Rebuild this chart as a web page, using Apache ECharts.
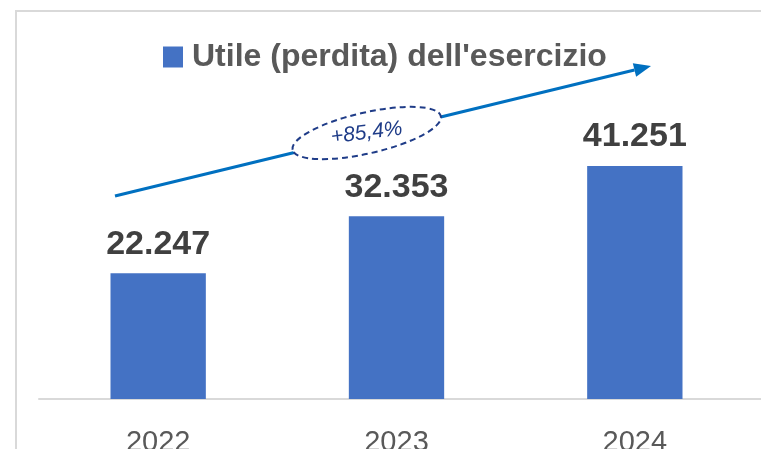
<!DOCTYPE html>
<html>
<head>
<meta charset="utf-8">
<script src="https://cdn.jsdelivr.net/npm/echarts@6/dist/echarts.min.js"></script>
<style>
	html, body { margin: 0; padding: 0; background: #fff; }
	#chart { width: 761px; height: 449px; }
</style>
</head>
<body>
<div id="chart"></div>
<script>
var anni = ['2022', '2023', '2024'];
var utile = [22247, 32353, 41251];
var seriesName = "Utile (perdita) dell'esercizio";
var crescita = '+85,4%';

function fmtIt(v) {
	return String(v).replace(/\B(?=(\d{3})+(?!\d))/g, '.');
}

var myChart = echarts.init(document.getElementById('chart'));

// arrow geometry (annotation)
var ax1 = 115, ay1 = 196, ax2 = 651, ay2 = 66;
var len = Math.sqrt((ax2 - ax1) * (ax2 - ax1) + (ay2 - ay1) * (ay2 - ay1));
var ux = (ax2 - ax1) / len, uy = (ay2 - ay1) / len;
var bx = ax2 - 17 * ux, by = ay2 - 17 * uy;

var option = {
	animation: false,
	backgroundColor: '#fff',
	grid: {
		left: 39,
		right: 7,
		top: 116.5,
		bottom: 50,
		outerBoundsMode: 'none'
	},
	legend: {
		data: [seriesName],
		left: 158,
		top: 36,
		icon: 'rect',
		itemWidth: 20,
		itemHeight: 21,
		textStyle: {
			fontFamily: 'Liberation Sans',
			fontWeight: 'bold',
			fontSize: 32,
			color: '#595959',
			padding: [0, 0, 0, 4]
		}
	},
	xAxis: {
		type: 'category',
		data: anni,
		axisTick: { show: false },
		axisLine: {
			lineStyle: { color: '#d9d9d9', width: 2 }
		},
		axisLabel: {
			fontFamily: 'Liberation Sans',
			fontSize: 29,
			color: '#595959',
			margin: 29
		}
	},
	yAxis: {
		type: 'value',
		min: 0,
		max: 50000,
		show: false
	},
	series: [{
		name: seriesName,
		type: 'bar',
		data: utile,
		barWidth: '40%',
		itemStyle: { color: '#4472c4' },
		label: {
			show: true,
			position: 'top',
			distance: 12,
			fontFamily: 'Liberation Sans',
			fontWeight: 'bold',
			fontSize: 34,
			color: '#404040',
			formatter: function(p) { return fmtIt(p.value); }
		}
	}],
	graphic: [{
		type: 'rect',
		silent: true,
		shape: { x: 16, y: 11, width: 800, height: 500 },
		style: { fill: 'none', stroke: '#d9d9d9', lineWidth: 2 }
	}, {
		type: 'line',
		silent: true,
		shape: { x1: 754, y1: 399, x2: 761, y2: 399 },
		style: { stroke: '#d9d9d9', lineWidth: 2 }
	}, {
		type: 'line',
		silent: true,
		shape: { x1: ax1, y1: ay1, x2: bx, y2: by },
		style: { stroke: '#0070c0', lineWidth: 3 }
	}, {
		type: 'polygon',
		silent: true,
		shape: {
			points: [
				[ax2, ay2],
				[bx - 7 * uy, by + 7 * ux],
				[bx + 7 * uy, by - 7 * ux]
			]
		},
		style: { fill: '#0070c0' }
	}, {
		type: 'ellipse',
		silent: true,
		x: 366.7,
		y: 133,
		rotation: 12.8 * Math.PI / 180,
		shape: { cx: 0, cy: 0, rx: 76, ry: 20.5 },
		style: { fill: '#fff', stroke: '#1f3c88', lineWidth: 2, lineDash: [6, 4] }
	}, {
		type: 'text',
		silent: true,
		x: 366.7,
		y: 133,
		rotation: 7 * Math.PI / 180,
		style: {
			text: crescita,
			fontFamily: 'Liberation Sans',
			fontStyle: 'italic',
			fontSize: 21,
			fill: '#1f3c88',
			align: 'center',
			verticalAlign: 'middle'
		}
	}]
};
myChart.setOption(option);
</script>
</body>
</html>
